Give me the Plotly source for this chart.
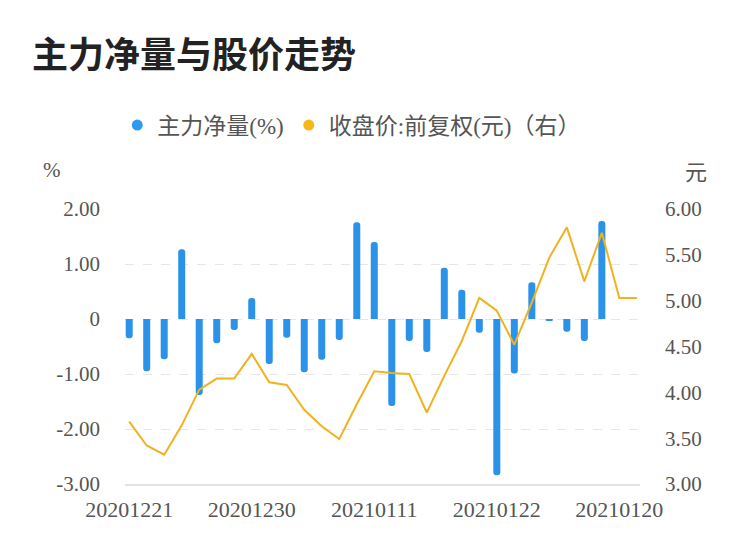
import plotly.graph_objects as go

dates = ["20201221", "20201222", "20201223", "20201224", "20201225", "20201228",
         "20201229", "20201230", "20201231", "20210104", "20210105", "20210106",
         "20210107", "20210108", "20210111", "20210112", "20210113", "20210114",
         "20210115", "20210118", "20210119", "20210122", "20210125", "20210126",
         "20210127", "20210128", "20210129", "20210201", "20210120", "20210202"]
net_flow = [-0.35, -0.95, -0.73, 1.27, -1.38, -0.44, -0.20, 0.38, -0.82, -0.34,
            -0.97, -0.74, -0.38, 1.76, 1.40, -1.58, -0.40, -0.60, 0.93, 0.53,
            -0.25, -2.84, -0.99, 0.67, -0.02, -0.23, -0.40, 1.78, None, None]
close_price = [3.68, 3.42, 3.32, 3.64, 4.03, 4.15, 4.15, 4.42, 4.11, 4.08,
               3.81, 3.63, 3.49, 3.87, 4.23, 4.21, 4.20, 3.78, 4.18, 4.56,
               5.03, 4.89, 4.52, 4.98, 5.47, 5.80, 5.21, 5.74, 5.03, 5.03]
left_ticks = [2, 1, 0, -1, -2, -3]
left_labels = ["2.00", "1.00", "0", "-1.00", "-2.00", "-3.00"]
right_ticks = [6, 5.5, 5, 4.5, 4, 3.5, 3]
right_labels = ["6.00", "5.50", "5.00", "4.50", "4.00", "3.50", "3.00"]
label_idx = [0, 7, 14, 21, 28]

x = list(range(len(dates)))
BLUE = "#2B92EA"
GOLD = "#F0B21E"
SERIF = "Liberation Serif, Noto Sans CJK SC"
TXT = "#555555"

fig = go.Figure()
fig.add_trace(go.Bar(x=x, y=net_flow, marker=dict(color=BLUE, cornerradius="50%", line=dict(width=0)),
                     showlegend=False, yaxis="y"))
fig.add_trace(go.Scatter(x=x, y=close_price, mode="lines", line=dict(color=GOLD, width=2),
                         showlegend=False, yaxis="y2"))
# legend entries (round dots)
fig.add_trace(go.Scatter(x=[None], y=[None], mode="markers", name="主力净量(%)",
                         marker=dict(color="#2D9CF0", size=11, symbol="circle")))
fig.add_trace(go.Scatter(x=[None], y=[None], mode="markers", name="收盘价:前复权(元)（右）",
                         marker=dict(color="#F5B818", size=11, symbol="circle")))

fig.update_layout(
    width=750, height=558,
    margin=dict(l=125, r=110, t=209, b=74),
    paper_bgcolor="white", plot_bgcolor="white",
    bargap=0.6,
    font=dict(family=SERIF, size=20, color=TXT),
    title=dict(text="<b>主力净量与股价走势</b>", xref="container", x=32/750, xanchor="left",
               yref="container", y=1-55/558, yanchor="middle",
               font=dict(family="Noto Sans CJK SC", size=36, color="#222222")),
    legend=dict(orientation="h", xref="paper", x=-0.015, xanchor="left",
                y=1.305, yanchor="middle", font=dict(family=SERIF, size=23, color=TXT),
                bgcolor="rgba(0,0,0,0)"),
    xaxis=dict(range=[-0.24, 29.18], tickvals=[x[i] for i in label_idx],
               ticktext=[dates[i] for i in label_idx], showgrid=False, zeroline=False,
               showline=True, linecolor="#E3E3E3", linewidth=1.5, ticks="",
               ticklabelstandoff=5,
               tickfont=dict(family=SERIF, size=22, color=TXT)),
    yaxis=dict(range=[-3, 2], tickvals=left_ticks, ticktext=left_labels,
               showgrid=True, gridcolor="#E6E6E6", griddash="dash", gridwidth=1,
               zeroline=False, ticks="", ticklabelstandoff=24,
               tickfont=dict(family=SERIF, size=21, color=TXT)),
    yaxis2=dict(range=[3, 6], tickvals=right_ticks, ticktext=right_labels,
                overlaying="y", side="right", showgrid=False, zeroline=False,
                ticks="", ticklabelstandoff=24,
                tickfont=dict(family=SERIF, size=21, color=TXT)),
    annotations=[
        dict(text="%", xref="paper", yref="paper", x=(52-125)/515, y=(484-170)/275,
             xanchor="center", yanchor="middle", showarrow=False,
             font=dict(family=SERIF, size=21, color=TXT)),
        dict(text="元", xref="paper", yref="paper", x=(696-125)/515, y=(484-170)/275,
             xanchor="center", yanchor="middle", showarrow=False,
             font=dict(family="Noto Sans CJK SC", size=22, color=TXT)),
    ],
)

fig.write_html("out.html")
